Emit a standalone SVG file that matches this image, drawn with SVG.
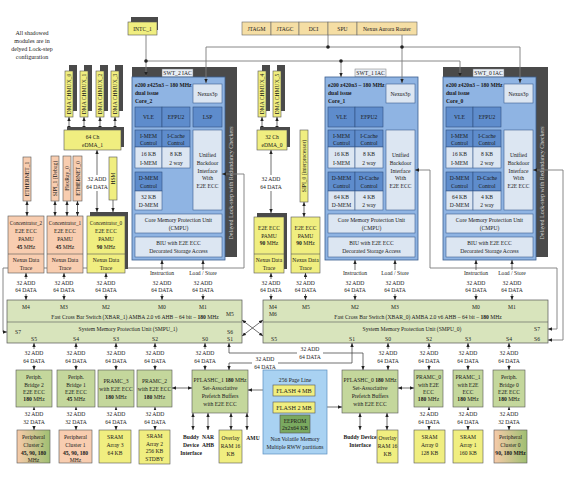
<svg xmlns="http://www.w3.org/2000/svg" width="572" height="478" viewBox="0 0 572 478">
<defs>
<marker id="ar" viewBox="0 0 6 6" refX="6" refY="3" markerWidth="4" markerHeight="4" markerUnits="userSpaceOnUse" orient="auto-start-reverse"><path d="M0,0.5L6,3L0,5.5z" fill="#222"/></marker>
<linearGradient id="pg" x1="0" x2="1" y1="0" y2="0"><stop offset="0" stop-color="#f7caa9"/><stop offset="1" stop-color="#9fbf72"/></linearGradient>
<style>
text{font-family:"Liberation Serif","Times New Roman",serif;font-size:5.6px;fill:#1a1a1a;text-anchor:middle}
.l{text-anchor:start}
.b{font-weight:bold}
.core{fill:#8fb4e3;stroke:#3d5f8f;stroke-width:0.8}
.dk{fill:#5e8ccc;stroke:#2f4f7f;stroke-width:0.6}
.lt{fill:#dce6f2;stroke:#3d5f8f;stroke-width:0.6}
.sh{fill:#4a4a4a}
.sw{fill:#e9eef5;stroke:#777;stroke-width:0.5}
.ye{fill:#f0ee80;stroke:#555;stroke-width:0.6}
.pe{fill:#f8cdb0;stroke:#555;stroke-width:0.6}
.gr{fill:#c4d79c;stroke:#555;stroke-width:0.6}
.xb{fill:#d8e4bc;stroke:#555;stroke-width:0.7}
.tn{fill:#f5dea4;stroke:#666;stroke-width:0.6}
.pg{fill:url(#pg);stroke:#555;stroke-width:0.6}
.ln{stroke:#333;stroke-width:0.7;fill:none}
.gl{stroke:#7a7a7a;stroke-width:0.9;fill:none}
.dv{stroke:#555;stroke-width:0.6}
.da{marker-start:url(#ar);marker-end:url(#ar)}
.ea{marker-end:url(#ar)}
.wb{fill:#fff}
.vt{fill:#d0d0d0;font-size:6px}
.nt{font-size:6px}
.fl{font-size:6.2px}
</style>
</defs>
<rect width="572" height="478" fill="#fff"/>

<g id="note" class="nt">
<text x="32" y="35" class="nt">All shadowed</text><text x="32" y="43" class="nt">modules are in</text><text x="32" y="51" class="nt">delyed Lock-step</text><text x="32" y="59" class="nt">configuration</text>
</g>

<g id="intc1"><rect class="sh" x="131" y="17" width="27" height="13"/><rect class="ye" x="128" y="22" width="29" height="13"/><text x="142.5" y="30.5">INTC_1</text></g>
<g id="jtagm"><rect class="tn" x="242" y="22" width="29" height="13"/><text x="256.5" y="30.5">JTAGM</text></g>
<g id="jtagc"><rect class="tn" x="271" y="22" width="28" height="13"/><text x="285" y="30.5">JTAGC</text></g>
<g id="dci"><rect class="tn" x="299" y="22" width="29" height="13"/><text x="313.5" y="30.5">DCI</text></g>
<g id="spu"><rect class="tn" x="328" y="22" width="29" height="13"/><text x="342.5" y="30.5">SPU</text></g>
<g id="nexus_router"><rect class="tn" x="357" y="22" width="60" height="13"/><text x="387" y="30.5">Nexus Aurora Router</text></g>

<g id="core2">
<rect class="sh" x="132" y="67" width="105" height="190"/>
<rect class="sw" x="162" y="69" width="31" height="8"/><text x="177.5" y="75">SWT_2 IAC</text>
<rect class="core" x="132" y="77" width="93" height="183"/>
<text class="vt" transform="translate(233,183) rotate(-90)">Delayed Lock-step with Redundancy Checkers</text>
<text class="l b" x="135" y="87">e200 z425n3 – 180 MHz</text><text class="l b" x="135" y="95">dual issue</text><text class="l b" x="135" y="103">Core_2</text>
<rect class="lt" x="193" y="84" width="29" height="19"/><text x="207.5" y="95.5">Nexus3p</text>
<rect class="dk" x="135" y="107" width="27" height="20"/><text x="148.5" y="119">VLE</text>
<rect class="dk" x="162" y="107" width="28" height="20"/><text x="176" y="119">EFPU2</text>
<rect class="dk" x="193" y="107" width="29" height="20"/><text x="207.5" y="119">LSP</text>
<rect class="dk" x="135" y="130" width="27" height="17"/><text x="148.5" y="138">I-MEM</text><text x="148.5" y="145">Control</text>
<rect class="dk" x="162" y="130" width="28" height="17"/><text x="176" y="138">I-Cache</text><text x="176" y="145">Control</text>
<rect class="lt" x="135" y="147" width="27" height="21"/><text x="148.5" y="156">16 KB</text><text x="148.5" y="164.5">I-MEM</text>
<rect class="lt" x="162" y="147" width="28" height="21"/><text x="176" y="156">8 KB</text><text x="176" y="164.5">2 way</text>
<rect class="dk" x="135" y="172" width="27" height="19"/><text x="148.5" y="180">D-MEM</text><text x="148.5" y="188">Control</text>
<rect class="lt" x="135" y="191" width="27" height="19"/><text x="148.5" y="199">32 KB</text><text x="148.5" y="207">D-MEM</text>
<rect class="lt" x="193" y="130" width="29" height="80"/><text x="207.5" y="157">Unified</text><text x="207.5" y="165">Backdoor</text><text x="207.5" y="172.5">Interface</text><text x="207.5" y="180">With</text><text x="207.5" y="188">E2E ECC</text>
<rect class="lt" x="135" y="214" width="87" height="19"/><text x="178.5" y="222">Core Memory Protection Unit</text><text x="178.5" y="230">(CMPU)</text>
<rect class="lt" x="135" y="237" width="87" height="20"/><text x="178.5" y="245">BIU with E2E ECC</text><text x="178.5" y="253">Decorated Storage Access</text>
</g>

<g id="core1">
<rect class="sw" x="355" y="69" width="31" height="8"/><text x="370.5" y="75">SWT_1 IAC</text>
<rect class="core" x="325" y="77" width="93" height="183"/>
<text class="l b" x="328" y="87">e200 z420n3 – 180 MHz</text><text class="l b" x="328" y="95">dual issue</text><text class="l b" x="328" y="103">Core_1</text>
<rect class="lt" x="386" y="84" width="29" height="19"/><text x="400.5" y="95.5">Nexus3p</text>
<rect class="dk" x="328" y="107" width="27" height="20"/><text x="341.5" y="119">VLE</text>
<rect class="dk" x="355" y="107" width="28" height="20"/><text x="369" y="119">EFPU2</text>
<rect class="dk" x="328" y="130" width="27" height="17"/><text x="341.5" y="138">I-MEM</text><text x="341.5" y="145">Control</text>
<rect class="dk" x="355" y="130" width="28" height="17"/><text x="369" y="138">I-Cache</text><text x="369" y="145">Control</text>
<rect class="lt" x="328" y="147" width="27" height="21"/><text x="341.5" y="156">16 KB</text><text x="341.5" y="164.5">I-MEM</text>
<rect class="lt" x="355" y="147" width="28" height="21"/><text x="369" y="156">8 KB</text><text x="369" y="164.5">2 way</text>
<rect class="dk" x="328" y="172" width="27" height="19"/><text x="341.5" y="180">D-MEM</text><text x="341.5" y="188">Control</text>
<rect class="dk" x="355" y="172" width="28" height="19"/><text x="369" y="180">D-Cache</text><text x="369" y="188">Control</text>
<rect class="lt" x="328" y="191" width="27" height="19"/><text x="341.5" y="199">64 KB</text><text x="341.5" y="207">D-MEM</text>
<rect class="lt" x="355" y="191" width="28" height="19"/><text x="369" y="199">4 KB</text><text x="369" y="207">2 way</text>
<rect class="lt" x="386" y="130" width="29" height="80"/><text x="400.5" y="157">Unified</text><text x="400.5" y="165">Backdoor</text><text x="400.5" y="172.5">Interface</text><text x="400.5" y="180">With</text><text x="400.5" y="188">E2E ECC</text>
<rect class="lt" x="328" y="214" width="87" height="19"/><text x="371.5" y="222">Core Memory Protection Unit</text><text x="371.5" y="230">(CMPU)</text>
<rect class="lt" x="328" y="237" width="87" height="20"/><text x="371.5" y="245">BIU with E2E ECC</text><text x="371.5" y="253">Decorated Storage Access</text>
</g>

<g id="core0">
<rect class="sh" x="443" y="67" width="105" height="190"/>
<rect class="sw" x="473" y="69" width="31" height="8"/><text x="488.5" y="75">SWT_0 IAC</text>
<rect class="core" x="443" y="77" width="93" height="183"/>
<text class="vt" transform="translate(544,183) rotate(-90)">Delayed Lock-step with Redundancy Checkers</text>
<text class="l b" x="446" y="87">e200 z420n3 – 180 MHz</text><text class="l b" x="446" y="95">dual issue</text><text class="l b" x="446" y="103">Core_0</text>
<rect class="lt" x="504" y="84" width="29" height="19"/><text x="518.5" y="95.5">Nexus3p</text>
<rect class="dk" x="446" y="107" width="27" height="20"/><text x="459.5" y="119">VLE</text>
<rect class="dk" x="473" y="107" width="28" height="20"/><text x="487" y="119">EFPU2</text>
<rect class="dk" x="446" y="130" width="27" height="17"/><text x="459.5" y="138">I-MEM</text><text x="459.5" y="145">Control</text>
<rect class="dk" x="473" y="130" width="28" height="17"/><text x="487" y="138">I-Cache</text><text x="487" y="145">Control</text>
<rect class="lt" x="446" y="147" width="27" height="21"/><text x="459.5" y="156">16 KB</text><text x="459.5" y="164.5">I-MEM</text>
<rect class="lt" x="473" y="147" width="28" height="21"/><text x="487" y="156">8 KB</text><text x="487" y="164.5">2 way</text>
<rect class="dk" x="446" y="172" width="27" height="19"/><text x="459.5" y="180">D-MEM</text><text x="459.5" y="188">Control</text>
<rect class="dk" x="473" y="172" width="28" height="19"/><text x="487" y="180">D-Cache</text><text x="487" y="188">Control</text>
<rect class="lt" x="446" y="191" width="27" height="19"/><text x="459.5" y="199">64 KB</text><text x="459.5" y="207">D-MEM</text>
<rect class="lt" x="473" y="191" width="28" height="19"/><text x="487" y="199">4 KB</text><text x="487" y="207">2 way</text>
<rect class="lt" x="504" y="130" width="29" height="80"/><text x="518.5" y="157">Unified</text><text x="518.5" y="165">Backdoor</text><text x="518.5" y="172.5">Interface</text><text x="518.5" y="180">With</text><text x="518.5" y="188">E2E ECC</text>
<rect class="lt" x="446" y="214" width="87" height="19"/><text x="489.5" y="222">Core Memory Protection Unit</text><text x="489.5" y="230">(CMPU)</text>
<rect class="lt" x="446" y="237" width="87" height="20"/><text x="489.5" y="245">BIU with E2E ECC</text><text x="489.5" y="253">Decorated Storage Access</text>
</g>

<g id="connectors">
<path class="gl ea" d="M146,35V76"/>
<path class="gl ea" d="M146,61H460V77"/>
<path class="gl ea" d="M341,61V77"/>
<path class="gl" d="M206,47H520"/>
<path class="gl ea" d="M206,47V83"/>
<path class="gl ea" d="M520,47V83"/>
<path class="gl" d="M328,35V47"/>
<path class="gl ea" d="M402,35V83"/>
<circle cx="146" cy="61" r="1.8" fill="#222"/><circle cx="341" cy="61" r="1.8" fill="#222"/>
<circle cx="328" cy="47" r="1.8" fill="#222"/><circle cx="402" cy="47" r="1.8" fill="#222"/>
<path class="gl da" d="M7,332H3V268H244V174H222"/>
<path class="gl da" d="M548,329H557V268H430V170H415"/>
<path class="gl da" d="M548,340H563V170H533"/>
<path class="ln da" d="M69,117V130"/><path class="ln da" d="M84,117V130"/><path class="ln da" d="M100,117V130"/><path class="ln da" d="M115,117V130"/>
<path class="ln da" d="M262,117V130"/><path class="ln da" d="M277,117V130"/>
<path class="ln da" d="M97,150V212"/>
<path class="ln da" d="M271,150V213"/>
<path class="ln da" d="M27,201V216"/><path class="ln da" d="M55,201V216"/><path class="ln da" d="M67,201V216"/><path class="ln da" d="M77.5,201V216"/>
<path class="ln ea" d="M113,200V212"/>
<path class="ln da" d="M304,202V217"/>
<path class="ln da" d="M26,273V300"/><path class="ln da" d="M64,273V300"/><path class="ln da" d="M106,273V300"/>
<path class="ln da" d="M271,273V300"/><path class="ln da" d="M305.5,273V300"/>
<path class="ln da" d="M162,260V300"/><path class="ln da" d="M203,260V300"/>
<path class="ln da" d="M355,260V300"/><path class="ln da" d="M395,260V300"/>
<path class="ln da" d="M476,260V300"/><path class="ln da" d="M512,260V300"/>
<path class="ln da" d="M242,320L263,336"/><path class="ln da" d="M263,320L242,336"/>
<path class="ln da" d="M34,343V370"/><path class="ln da" d="M76,343V370"/><path class="ln da" d="M116,343V370"/><path class="ln da" d="M155,343V370"/><path class="ln da" d="M205,343V370"/>
<path class="ln da" d="M388,343V370"/><path class="ln da" d="M429,343V370"/><path class="ln da" d="M468,343V370"/><path class="ln da" d="M509,343V370"/>
<path class="ln da" d="M229,343V353H363V370"/>
<path class="ln da" d="M352,343V363H229V370"/>
<path class="ln da" d="M34,407V430"/><path class="ln da" d="M76,407V430"/><path class="ln da" d="M116,407V430"/><path class="ln da" d="M155,407V430"/>
<path class="ln da" d="M429,407V430"/><path class="ln da" d="M468,407V430"/><path class="ln da" d="M509,407V430"/>
<path class="ln da" d="M172,388H192"/><path class="ln da" d="M248,390H273"/><path class="ln da" d="M315,407H342"/><path class="ln da" d="M398,388H414"/>
<path class="ln da" d="M193,413V430"/><path class="ln da" d="M208,413V430"/><path class="ln da" d="M231,413V430"/><path class="ln da" d="M247,413V430"/>
<path class="ln da" d="M360,413V430"/><path class="ln da" d="M387,413V430"/>
<rect class="wb" x="84" y="175" width="26" height="16"/><text x="97" y="181">32 ADD</text><text x="97" y="189">64 DATA</text>
<rect class="wb" x="258" y="175" width="26" height="16"/><text x="271" y="181">32 ADD</text><text x="271" y="189">64 DATA</text>
<rect class="wb" x="13" y="279" width="26" height="15"/><text x="26" y="285">32 ADD</text><text x="26" y="292">64 DATA</text>
<rect class="wb" x="51" y="279" width="26" height="15"/><text x="64" y="285">32 ADD</text><text x="64" y="292">64 DATA</text>
<rect class="wb" x="93" y="279" width="26" height="15"/><text x="106" y="285">32 ADD</text><text x="106" y="292">64 DATA</text>
<rect class="wb" x="258" y="279" width="26" height="15"/><text x="271" y="285">32 ADD</text><text x="271" y="292">64 DATA</text>
<rect class="wb" x="292.5" y="279" width="26" height="15"/><text x="305.5" y="285">32 ADD</text><text x="305.5" y="292">64 DATA</text>
<rect class="wb" x="148" y="270" width="28" height="24"/><text x="162" y="275">Instruction</text><text x="162" y="285">32 ADD</text><text x="162" y="292">64 DATA</text>
<rect class="wb" x="189" y="270" width="29" height="24"/><text x="203" y="275">Load / Store</text><text x="203" y="285">32 ADD</text><text x="203" y="292">64 DATA</text>
<rect class="wb" x="341" y="270" width="28" height="24"/><text x="355" y="275">Instruction</text><text x="355" y="285">32 ADD</text><text x="355" y="292">64 DATA</text>
<rect class="wb" x="381" y="270" width="29" height="24"/><text x="395" y="275">Load / Store</text><text x="395" y="285">32 ADD</text><text x="395" y="292">64 DATA</text>
<rect class="wb" x="462" y="270" width="28" height="24"/><text x="476" y="275">Instruction</text><text x="476" y="285">32 ADD</text><text x="476" y="292">64 DATA</text>
<rect class="wb" x="498" y="270" width="29" height="24"/><text x="512" y="275">Load / Store</text><text x="512" y="285">32 ADD</text><text x="512" y="292">64 DATA</text>
<rect class="wb" x="21" y="349" width="26" height="16"/><text x="34" y="355">32 ADD</text><text x="34" y="363">64 DATA</text>
<rect class="wb" x="63" y="349" width="26" height="16"/><text x="76" y="355">32 ADD</text><text x="76" y="363">64 DATA</text>
<rect class="wb" x="103" y="349" width="26" height="16"/><text x="116" y="355">32 ADD</text><text x="116" y="363">64 DATA</text>
<rect class="wb" x="142" y="349" width="26" height="16"/><text x="155" y="355">32 ADD</text><text x="155" y="363">64 DATA</text>
<rect class="wb" x="192" y="349" width="26" height="16"/><text x="205" y="355">32 ADD</text><text x="205" y="363">64 DATA</text>
<rect class="wb" x="297" y="345" width="26" height="16"/><text x="310" y="351">32 ADD</text><text x="310" y="359">64 DATA</text>
<rect class="wb" x="252" y="355" width="26" height="15"/><text x="265" y="361">32 ADD</text><text x="265" y="369">64 DATA</text>
<rect class="wb" x="375" y="349" width="26" height="16"/><text x="388" y="355">32 ADD</text><text x="388" y="363">64 DATA</text>
<rect class="wb" x="416" y="349" width="26" height="16"/><text x="429" y="355">32 ADD</text><text x="429" y="363">64 DATA</text>
<rect class="wb" x="455" y="349" width="26" height="16"/><text x="468" y="355">32 ADD</text><text x="468" y="363">64 DATA</text>
<rect class="wb" x="496" y="349" width="26" height="16"/><text x="509" y="355">32 ADD</text><text x="509" y="363">64 DATA</text>
<rect class="wb" x="21" y="410" width="26" height="16"/><text x="34" y="416">32 ADD</text><text x="34" y="424">32 DATA</text>
<rect class="wb" x="63" y="410" width="26" height="16"/><text x="76" y="416">32 ADD</text><text x="76" y="424">32 DATA</text>
<rect class="wb" x="103" y="410" width="26" height="16"/><text x="116" y="416">32 ADD</text><text x="116" y="424">64 DATA</text>
<rect class="wb" x="142" y="410" width="26" height="16"/><text x="155" y="416">32 ADD</text><text x="155" y="424">64 DATA</text>
<rect class="wb" x="416" y="410" width="26" height="16"/><text x="429" y="416">32 ADD</text><text x="429" y="424">64 DATA</text>
<rect class="wb" x="455" y="410" width="26" height="16"/><text x="468" y="416">32 ADD</text><text x="468" y="424">64 DATA</text>
<rect class="wb" x="496" y="410" width="26" height="16"/><text x="509" y="416">32 ADD</text><text x="509" y="424">32 DATA</text>
</g>

<g id="chmux0"><rect class="sh" x="69" y="65" width="8" height="46"/><rect class="ye" x="65" y="71" width="8" height="46"/><text transform="translate(71,94) rotate(-90)">DMA CHMUX_0</text></g>
<g id="chmux1"><rect class="sh" x="84" y="65" width="8" height="46"/><rect class="ye" x="80" y="71" width="8" height="46"/><text transform="translate(86,94) rotate(-90)">DMA CHMUX_1</text></g>
<g id="chmux2"><rect class="sh" x="100" y="65" width="8" height="46"/><rect class="ye" x="96" y="71" width="8" height="46"/><text transform="translate(102,94) rotate(-90)">DMA CHMUX_2</text></g>
<g id="chmux3"><rect class="sh" x="115" y="65" width="8" height="46"/><rect class="ye" x="111" y="71" width="8" height="46"/><text transform="translate(117,94) rotate(-90)">DMA CHMUX_3</text></g>
<g id="chmux4"><rect class="sh" x="262" y="65" width="8" height="46"/><rect class="ye" x="258" y="71" width="8" height="46"/><text transform="translate(264,94) rotate(-90)">DMA CHMUX_4</text></g>
<g id="chmux5"><rect class="sh" x="277" y="65" width="8" height="46"/><rect class="ye" x="273" y="71" width="8" height="46"/><text transform="translate(279,94) rotate(-90)">DMA CHMUX_5</text></g>
<g id="edma1"><rect class="sh" x="67" y="127" width="57" height="20"/><rect class="ye" x="64" y="130" width="57" height="20"/><text x="92.5" y="139">64 Ch</text><text x="92.5" y="147">eDMA_1</text></g>
<g id="edma0"><rect class="sh" x="260" y="127" width="30" height="20"/><rect class="ye" x="257" y="130" width="30" height="20"/><text x="272" y="139">32 Ch</text><text x="272" y="147">eDMA_0</text></g>

<g id="ethernet1"><rect class="pe" x="23" y="157" width="8" height="44"/><text transform="translate(29,179) rotate(-90)">ETHERNET_1</text></g>
<g id="sipi1"><rect class="pe" x="51" y="156" width="8" height="45"/><text transform="translate(57,178.5) rotate(-90)">SIPI_1 (Debug)</text></g>
<g id="flexray0"><rect class="pe" x="63" y="156" width="8" height="45"/><text transform="translate(69,178.5) rotate(-90)">FlexRay_0</text></g>
<g id="ethernet0"><rect class="pe" x="73" y="156" width="9" height="45"/><text transform="translate(79.5,178.5) rotate(-90)">ETHERNET_0</text></g>
<g id="hsm"><rect class="ye" x="109" y="157" width="8" height="43"/><text transform="translate(115,178.5) rotate(-90)">HSM</text></g>
<g id="sipi0"><rect class="ye" x="300" y="130" width="8" height="72"/><text transform="translate(306,166) rotate(-90)">SIPI_0 (interprocessor)</text></g>

<g id="conc2"><rect class="pe" x="8" y="216" width="36" height="57"/><line class="dv" x1="8" y1="254" x2="44" y2="254"/><text x="26" y="225" style="font-size:5.2px">Concentrator_2</text><text x="26" y="233">E2E ECC</text><text x="26" y="241">PAMU</text><text x="26" y="249"><tspan class="b">45</tspan> MHz</text><text x="26" y="262">Nexus Data</text><text x="26" y="270">Trace</text></g>
<g id="conc1"><rect class="pe" x="47" y="216" width="36" height="57"/><line class="dv" x1="47" y1="254" x2="83" y2="254"/><text x="65" y="225" style="font-size:5.2px">Concentrator_1</text><text x="65" y="233">E2E ECC</text><text x="65" y="241">PAMU</text><text x="65" y="249"><tspan class="b">45</tspan> MHz</text><text x="65" y="262">Nexus Data</text><text x="65" y="270">Trace</text></g>
<g id="conc0"><rect class="sh" x="90" y="212" width="38" height="57"/><rect class="ye" x="87" y="216" width="38" height="57"/><line class="dv" x1="87" y1="254" x2="125" y2="254"/><text x="106" y="225" style="font-size:5.2px">Concentrator_0</text><text x="106" y="233">E2E ECC</text><text x="106" y="241">PAMU</text><text x="106" y="249"><tspan class="b">90</tspan> MHz</text><text x="106" y="262">Nexus Data</text><text x="106" y="270">Trace</text></g>
<g id="pamu_a"><rect class="sh" x="257" y="213" width="30" height="56"/><rect class="ye" x="254" y="217" width="30" height="56"/><line class="dv" x1="254" y1="254" x2="284" y2="254"/><text x="269" y="230">E2E ECC</text><text x="269" y="238">PAMU</text><text x="269" y="245"><tspan class="b">90</tspan> MHz</text><text x="269" y="262">Nexus Data</text><text x="269" y="270">Trace</text></g>
<g id="pamu_b"><rect class="ye" x="291" y="217" width="29" height="56"/><line class="dv" x1="291" y1="254" x2="320" y2="254"/><text x="305.5" y="230">E2E ECC</text><text x="305.5" y="238">PAMU</text><text x="305.5" y="245"><tspan class="b">90</tspan> MHz</text><text x="305.5" y="262">Nexus Data</text><text x="305.5" y="270">Trace</text></g>

<g id="xbar1"><rect class="xb" x="7" y="300" width="235" height="43"/><line class="dv" x1="7" y1="322" x2="242" y2="322"/>
<text x="26" y="309">M4</text><text x="64" y="309">M3</text><text x="106" y="309">M2</text><text x="162" y="309">M0</text><text x="203" y="309">M1</text><text x="230" y="316">M5</text>
<text x="135" y="319">Fast Cross Bar Switch (XBAR_1) AMBA 2.0 v6 AHB – 64 bit – <tspan class="b">180</tspan> MHz</text>
<text x="128" y="331">System Memory Protection Unit (SMPU_1)</text>
<text x="18" y="334">S7</text><text x="230" y="334">S6</text>
<text x="34" y="341">S5</text><text x="76" y="341">S4</text><text x="116" y="341">S3</text><text x="155" y="341">S2</text><text x="205" y="341">S0</text><text x="230" y="341">S1</text>
</g>
<g id="xbar0"><rect class="xb" x="263" y="300" width="285" height="43"/><line class="dv" x1="263" y1="322" x2="548" y2="322"/>
<text x="273" y="309">M4</text><text x="273" y="316">M6</text><text x="306" y="309">M5</text><text x="355" y="309">M2</text><text x="395" y="309">M3</text><text x="476" y="309">M0</text><text x="512" y="309">M1</text>
<text x="418" y="319">Fast Cross Bar Switch (XBAR_0) AMBA 2.0 v6 AHB – 64 bit – <tspan class="b">180</tspan> MHz</text>
<text x="412" y="331">System Memory Protection Unit (SMPU_0)</text>
<text x="537" y="331">S7</text><text x="537" y="341">S6</text>
<text x="274" y="341">S5</text><text x="352" y="341">S1</text><text x="388" y="341">S0</text><text x="429" y="341">S2</text><text x="468" y="341">S3</text><text x="509" y="341">S4</text>
</g>

<g id="pbridge2"><rect class="gr" x="16" y="370" width="36" height="37"/><text x="34" y="379">Periph.</text><text x="34" y="387">Bridge 2</text><text x="34" y="394">E2E ECC</text><text x="34" y="401"><tspan class="b">180</tspan> MHz</text></g>
<g id="pbridge1"><rect class="gr" x="57" y="370" width="38" height="37"/><text x="76" y="379">Periph.</text><text x="76" y="387">Bridge 1</text><text x="76" y="394">E2E ECC</text><text x="76" y="401"><tspan class="b">45</tspan> MHz</text></g>
<g id="pramc3"><rect class="gr" x="98" y="370" width="36" height="37"/><text x="116" y="383">PRAMC_3</text><text x="116" y="391">with E2E ECC</text><text x="116" y="399"><tspan class="b">180</tspan> MHz</text></g>
<g id="pramc2"><rect class="gr" x="137" y="370" width="35" height="37"/><text x="154.5" y="383">PRAMC_2</text><text x="154.5" y="391">with E2E ECC</text><text x="154.5" y="399"><tspan class="b">180</tspan> MHz</text></g>
<g id="pflashc1"><rect class="gr" x="192" y="370" width="56" height="43"/><text x="220" y="382">PFLASHC_1 <tspan class="b">180</tspan> MHz</text><text x="220" y="390">Set-Associative</text><text x="220" y="398">Prefetch Buffers</text><text x="220" y="405.5">with E2E ECC</text></g>
<g id="nvm"><rect x="263" y="370" width="64" height="84" fill="#a9d2f2" stroke="#5a8fc0" stroke-width="0.7"/><text x="295" y="382">256 Page Line</text>
<rect class="ye" x="273" y="385" width="42" height="11"/><text class="fl" x="294" y="393">FLASH 4 MB</text>
<rect class="ye" x="273" y="402" width="42" height="11"/><text class="fl" x="294" y="410">FLASH 2 MB</text>
<rect x="280" y="415" width="30" height="18" fill="#7aa960" stroke="#555" stroke-width="0.6"/><text x="295" y="422.5">EEPROM</text><text x="295" y="430">2x2x64 KB</text>
<text x="295" y="441">Non Volatile Memory</text><text x="295" y="449">Multiple RWW partitions</text></g>
<g id="pflashc0"><rect class="gr" x="342" y="370" width="56" height="43"/><text x="370" y="382">PFLASHC_0 <tspan class="b">180</tspan> MHz</text><text x="370" y="390">Set-Associative</text><text x="370" y="398">Prefetch Buffers</text><text x="370" y="405.5">with E2E ECC</text></g>
<g id="pramc0"><rect class="gr" x="414" y="370" width="29" height="37"/><text x="428.5" y="379">PRAMC_0</text><text x="428.5" y="387">with E2E</text><text x="428.5" y="394">ECC</text><text x="428.5" y="401"><tspan class="b">180</tspan> MHz</text></g>
<g id="pramc1"><rect class="gr" x="453" y="370" width="30" height="37"/><text x="468" y="379">PRAMC_1</text><text x="468" y="387">with E2E</text><text x="468" y="394">ECC</text><text x="468" y="401"><tspan class="b">180</tspan> MHz</text></g>
<g id="pbridge0"><rect class="gr" x="493" y="370" width="32" height="37"/><text x="509" y="379">Periph.</text><text x="509" y="387">Bridge 0</text><text x="509" y="394">E2E ECC</text><text x="509" y="401"><tspan class="b">180</tspan> MHz</text></g>

<g id="pcluster2"><rect class="pg" x="17" y="430" width="33" height="33"/><text x="33.5" y="439">Peripheral</text><text x="33.5" y="447">Cluster 2</text><text class="b" x="33.5" y="455">45, 90, 180</text><text x="33.5" y="462">MHz</text></g>
<g id="pcluster1"><rect class="pe" x="59" y="430" width="33" height="33"/><text x="75.5" y="439">Peripheral</text><text x="75.5" y="447">Cluster 1</text><text class="b" x="75.5" y="455">45, 90, 180</text><text x="75.5" y="462">MHz</text></g>
<g id="sram3"><rect class="ye" x="99" y="430" width="32" height="33"/><text x="115" y="439">SRAM</text><text x="115" y="447">Array 3</text><text x="115" y="455">64 KB</text></g>
<g id="sram2"><rect class="ye" x="139" y="430" width="31" height="34"/><text x="154.5" y="438">SRAM</text><text x="154.5" y="445.5">Array 2</text><text x="154.5" y="453">256 KB</text><text x="154.5" y="461">STDBY</text></g>
<g id="buddy1" class="b"><text class="b" x="191" y="439">Buddy</text><text class="b" x="191" y="447">Device</text><text class="b" x="191" y="455">Interface</text></g>
<g id="nar"><text class="b" x="208" y="439">NAR</text><text class="b" x="208" y="447">AHB</text></g>
<g id="overlay1"><rect class="ye" x="219" y="430" width="23" height="33"/><text x="230.5" y="440">Overlay</text><text x="230.5" y="448">RAM 16</text><text x="230.5" y="456">KB</text></g>
<g id="amu"><text class="b" x="253" y="440">AMU</text></g>
<g id="buddy0"><text class="b" x="360" y="439">Buddy Device</text><text class="b" x="360" y="447">Interface</text></g>
<g id="overlay0"><rect class="ye" x="377" y="430" width="21" height="33"/><text x="387.5" y="440">Overlay</text><text x="387.5" y="448">RAM 16</text><text x="387.5" y="456">KB</text></g>
<g id="sram0"><rect class="ye" x="414" y="430" width="31" height="33"/><text x="429.5" y="439">SRAM</text><text x="429.5" y="447">Array 0</text><text x="429.5" y="455">128 KB</text></g>
<g id="sram1"><rect class="ye" x="453" y="430" width="30" height="33"/><text x="468" y="439">SRAM</text><text x="468" y="447">Array 1</text><text x="468" y="455">160 KB</text></g>
<g id="pcluster0"><rect class="pg" x="494" y="430" width="33" height="33"/><text x="510.5" y="439">Peripheral</text><text x="510.5" y="447">Cluster 0</text><text class="b" x="510.5" y="455">90, 180 MHz</text></g>
</svg>
